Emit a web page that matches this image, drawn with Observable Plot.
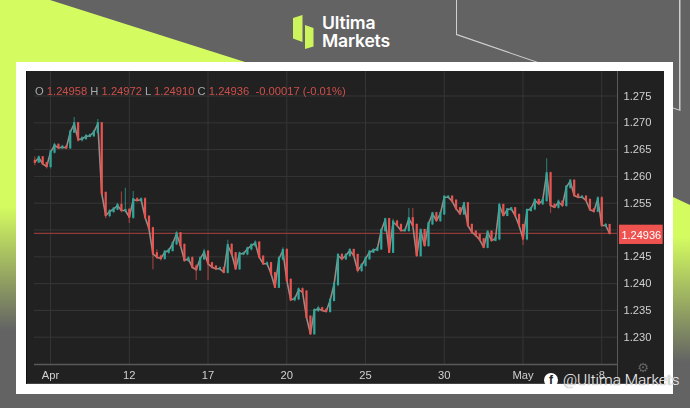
<!DOCTYPE html>
<html>
<head>
<meta charset="utf-8">
<script src="https://cdn.jsdelivr.net/npm/d3@7"></script>
<script src="https://cdn.jsdelivr.net/npm/@observablehq/plot@0.6"></script>
<style>
html,body{margin:0;padding:0;}
body{width:690px;height:408px;position:relative;overflow:hidden;background:#636363;font-family:"Liberation Sans",Arial,sans-serif;}
.abs{position:absolute;left:0;top:0;width:690px;height:408px;}
#greenL{background:linear-gradient(to bottom,#d4fb60 0,#d4fb60 207px,#636363 330px);clip-path:polygon(0 0,50px 0,245px 62px,245px 70px,16px 70px,16px 408px,0 408px);}
#greenR{background:linear-gradient(to bottom,#d4fb60 0,#d4fb60 237px,#636363 362px);clip-path:polygon(673px 197px,690px 205px,690px 408px,673px 408px);}
#lines{background:#cfcfcf;clip-path:polygon(456px 0,457px 0,457px 34px,538px 62px,535px 62px,456px 35px);}
#lines2{background:#cfcfcf;clip-path:polygon(679px 0,680.5px 0,680.5px 111px,673px 108.5px,673px 107.5px,679px 109.5px);}
#frame{position:absolute;left:16px;top:62px;width:657px;height:332px;background:#fff;}
#panel{position:absolute;left:26px;top:71px;width:638px;height:313px;background:#212121;box-shadow:inset 1px 0 0 #111,inset 0 -1px 0 #444;}
#chart{position:absolute;left:0;top:0;filter:blur(0.6px);}
#chart svg{display:block;background:transparent;}
#ohlc{position:absolute;left:35px;top:85px;font-size:11.2px;line-height:13px;color:#a9a9a9;white-space:pre;filter:blur(0.35px);}
#ohlc b{font-weight:normal;color:#cf4f4b;}
.logoA{position:absolute;left:0;top:0;width:690px;height:100px;background:#cdf45c;}
#lg1{clip-path:polygon(293px 18px,302.5px 15px,302.5px 42px,293px 38.5px);}
#lg2{clip-path:polygon(305px 25px,313.5px 28px,313.5px 46.5px,305px 49px);}
#brand{position:absolute;left:322px;top:14px;font-family:Inter,sans-serif;font-weight:600;font-size:17.6px;line-height:18px;color:#fff;letter-spacing:-0.2px;}
#mark{position:absolute;left:544px;top:371px;display:flex;align-items:center;color:#f2f2f2;font-family:Roboto,sans-serif;font-weight:300;font-size:15.4px;line-height:18px;white-space:nowrap;text-shadow:0 0 1px #555;}
#mark i{display:inline-block;width:14px;height:14px;border-radius:7px;background:#fff;color:#222;font:bold 12px/15px "Liberation Sans",sans-serif;text-align:center;margin-right:5px;text-shadow:none;}
</style>
</head>
<body>
<div id="greenL" class="abs"></div>
<div id="greenR" class="abs"></div>
<div id="lines" class="abs"></div>
<div id="lines2" class="abs"></div>
<div id="lg1" class="logoA"></div>
<div id="lg2" class="logoA"></div>
<div id="brand">Ultima<br>Markets</div>
<div id="frame"></div>
<div id="panel"></div>
<div id="chart"></div>
<div id="ohlc">O <b>1.24958</b> H <b>1.24972</b> L <b>1.24910</b> C <b>1.24936</b>  <b>-0.00017 (-0.01%)</b></div>
<div id="mark"><i>f</i>@Ultima Markets</div>
<script>
const closes = [1.26265,1.26347,1.26235,1.26185,1.26452,1.26577,1.26534,1.26545,1.26534,1.26825,
1.26982,1.26683,1.26702,1.26745,1.26758,1.26825,1.26982,1.25681,1.25271,1.25345,
1.25388,1.25457,1.25364,1.25364,1.25239,1.25564,1.25551,1.25564,1.25239,1.25023,
1.24556,1.24493,1.24468,1.24586,1.24618,1.24743,1.24929,1.24711,1.24431,1.24463,
1.24306,1.24258,1.24463,1.24586,1.24370,1.24306,1.24276,1.24276,1.24213,1.24711,
1.24556,1.24276,1.24556,1.24556,1.24649,1.24711,1.24754,1.24493,1.24370,1.24370,
1.24183,1.23933,1.24463,1.24618,1.24058,1.23698,1.23717,1.23884,1.23840,1.23373,
1.23064,1.23498,1.23530,1.23498,1.23480,1.23685,1.23983,1.24524,1.24463,1.24524,
1.24618,1.24524,1.24245,1.24338,1.24463,1.24586,1.24618,1.24649,1.24991,1.25191,
1.24586,1.25146,1.25084,1.24991,1.24991,1.25209,1.25084,1.24524,1.24991,1.24711,
1.25116,1.25302,1.25177,1.25302,1.25612,1.25612,1.25538,1.25396,1.25302,1.25489,
1.25084,1.24959,1.24898,1.24817,1.24679,1.24959,1.24804,1.24836,1.25457,1.25271,
1.25377,1.25396,1.25271,1.25084,1.24836,1.25364,1.25396,1.25551,1.25489,1.25551,
1.26049,1.25457,1.25426,1.25519,1.25457,1.25799,1.25911,1.25644,1.25612,1.25612,
1.25551,1.25377,1.25351,1.25582,1.25084,1.25084,1.24936];
const highs = [1.2636,1.2638,1.2636,1.2626,1.2648,1.2662,1.2661,1.2658,1.2658,1.2686,
1.2710,1.2700,1.2674,1.2678,1.2679,1.2686,1.2706,1.2700,1.2571,1.2538,
1.2542,1.2550,1.2571,1.2578,1.2540,1.2572,1.2560,1.2560,1.2560,1.2526,
1.2505,1.2463,1.2453,1.2462,1.2465,1.2478,1.2497,1.2495,1.2474,1.2450,
1.2450,1.2435,1.2450,1.2464,1.2462,1.2440,1.2434,1.2431,1.2431,1.2481,
1.2475,1.2458,1.2459,1.2459,1.2468,1.2474,1.2480,1.2478,1.2452,1.2441,
1.2440,1.2421,1.2450,1.2467,1.2465,1.2409,1.2375,1.2392,1.2392,1.2387,
1.2340,1.2353,1.2358,1.2356,1.2353,1.2372,1.2402,1.2456,1.2456,1.2456,
1.2465,1.2464,1.2455,1.2437,1.2450,1.2462,1.2465,1.2468,1.2502,1.2522,
1.2522,1.2520,1.2518,1.2511,1.2502,1.2540,1.2540,1.2511,1.2502,1.2501,
1.2515,1.2533,1.2533,1.2533,1.2564,1.2564,1.2564,1.2556,1.2542,1.2552,
1.2551,1.2511,1.2498,1.2492,1.2484,1.2498,1.2498,1.2486,1.2550,1.2548,
1.2540,1.2542,1.2542,1.2530,1.2510,1.2539,1.2542,1.2558,1.2557,1.2558,
1.2633,1.2608,1.2549,1.2556,1.2554,1.2583,1.2594,1.2593,1.2568,1.2564,
1.2564,1.2558,1.2539,1.2562,1.2562,1.2512,1.2510];
const lows = [1.2620,1.2626,1.2620,1.2614,1.2614,1.2642,1.2650,1.2651,1.2650,1.2650,
1.2680,1.2664,1.2664,1.2670,1.2672,1.2673,1.2679,1.2565,1.2521,1.2523,
1.2531,1.2536,1.2532,1.2532,1.2512,1.2520,1.2552,1.2552,1.2520,1.2499,
1.2426,1.2445,1.2442,1.2444,1.2455,1.2459,1.2471,1.2468,1.2440,1.2440,
1.2427,1.2406,1.2423,1.2443,1.2406,1.2427,1.2424,1.2424,1.2418,1.2418,
1.2451,1.2425,1.2425,1.2452,1.2452,1.2461,1.2468,1.2446,1.2434,1.2433,
1.2414,1.2391,1.2391,1.2442,1.2402,1.2366,1.2366,1.2368,1.2381,1.2334,
1.2304,1.2304,1.2346,1.2347,1.2345,1.2345,1.2366,1.2394,1.2442,1.2443,
1.2449,1.2449,1.2420,1.2421,1.2431,1.2444,1.2457,1.2460,1.2462,1.2496,
1.2456,1.2456,1.2505,1.2496,1.2496,1.2496,1.2505,1.2449,1.2449,1.2468,
1.2468,1.2508,1.2514,1.2514,1.2527,1.2558,1.2550,1.2536,1.2527,1.2527,
1.2504,1.2492,1.2486,1.2478,1.2465,1.2465,1.2477,1.2480,1.2480,1.2525,
1.2525,1.2536,1.2523,1.2505,1.2471,1.2480,1.2533,1.2536,1.2546,1.2546,
1.2552,1.2531,1.2540,1.2539,1.2542,1.2543,1.2576,1.2561,1.2558,1.2558,
1.2552,1.2535,1.2531,1.2532,1.2505,1.2505,1.2491];
const firstOpen = 1.2628;
const lastPrice = 1.24936;
const priceTicks = [1.275,1.27,1.265,1.26,1.255,1.25,1.245,1.24,1.235,1.23];
const axisPriceTicks = [1.275,1.27,1.265,1.26,1.255,1.245,1.24,1.235,1.23];
const timeTicks = [4,24,44,64,84,104,124,144];
const timeLabels = ["Apr","12","17","20","25","30","May","8"];

const candles = closes.map((c,i)=>({
  i, close:c, open: i ? closes[i-1] : firstOpen, high:highs[i], low:lows[i],
  up: c >= (i ? closes[i-1] : firstOpen)
}));
const UP="#2fa89c", DOWN="#e8534f", GRID="#363636", AXIS="#5a5a5a", TXT="#d0d0d0";
const axisEnd = 148;
const tagEnd = 159.6;
const yDomain = [1.22491,1.27957];
const colorOf = d => d.up ? UP : DOWN;

const fig = Plot.plot({
  width:690, height:408,
  marginLeft:34, marginRight:73, marginTop:71, marginBottom:44,
  style:{background:"transparent",fontFamily:'"Liberation Sans",Arial,sans-serif',overflow:"visible"},
  x:{type:"linear",domain:[-0.08,axisEnd]},
  y:{type:"linear",domain:yDomain},
  marks:[
    Plot.ruleY(priceTicks,{stroke:GRID,strokeWidth:1}),
    Plot.ruleX(timeTicks,{stroke:GRID,strokeWidth:1}),
    Plot.ruleY([yDomain[0]],{stroke:AXIS,strokeWidth:1.5}),
    Plot.ruleX([axisEnd],{y1:()=>1.22118,y2:()=>yDomain[1],stroke:AXIS,strokeWidth:1}),
    Plot.ruleY([lastPrice],{stroke:"#8e3b39",strokeWidth:1.2}),
    Plot.line(candles,{x:"i",y:"close",stroke:"#9c8a86",strokeWidth:1.6,curve:"linear"}),
    Plot.ruleX(candles,{x:"i",y1:"low",y2:"high",stroke:colorOf,strokeWidth:1.2,strokeOpacity:0.6}),
    Plot.ruleX(candles,{x:"i",y1:"open",y2:"close",stroke:colorOf,strokeWidth:2.2,strokeLinecap:"square"}),
    Plot.axisY(axisPriceTicks,{anchor:"right",tickSize:0,tickPadding:6,tickFormat:d3.format(".3f"),fill:TXT,fontSize:11.2,label:null}),
    Plot.axisX(timeTicks,{anchor:"bottom",tickSize:0,tickPadding:7,tickFormat:d=>timeLabels[timeTicks.indexOf(d)],fill:TXT,fontSize:11.2,label:null}),
    Plot.rect([lastPrice],{x1:()=>148.5,x2:()=>tagEnd,y1:()=>1.2509,y2:()=>1.2473,fill:"#ef5350"}),
    Plot.text([lastPrice],{x:()=>(148.5+tagEnd)/2,y:()=>1.2490,text:d=>d.toFixed(5),fill:"#fff",fontSize:11}),
    Plot.text(["\u2699"],{x:()=>154.5,y:()=>1.2243,text:d=>d,fill:"#666",fontSize:13,fontFamily:"DejaVu Sans"})
  ]
});
document.getElementById("chart").appendChild(fig);
</script>
</body>
</html>
